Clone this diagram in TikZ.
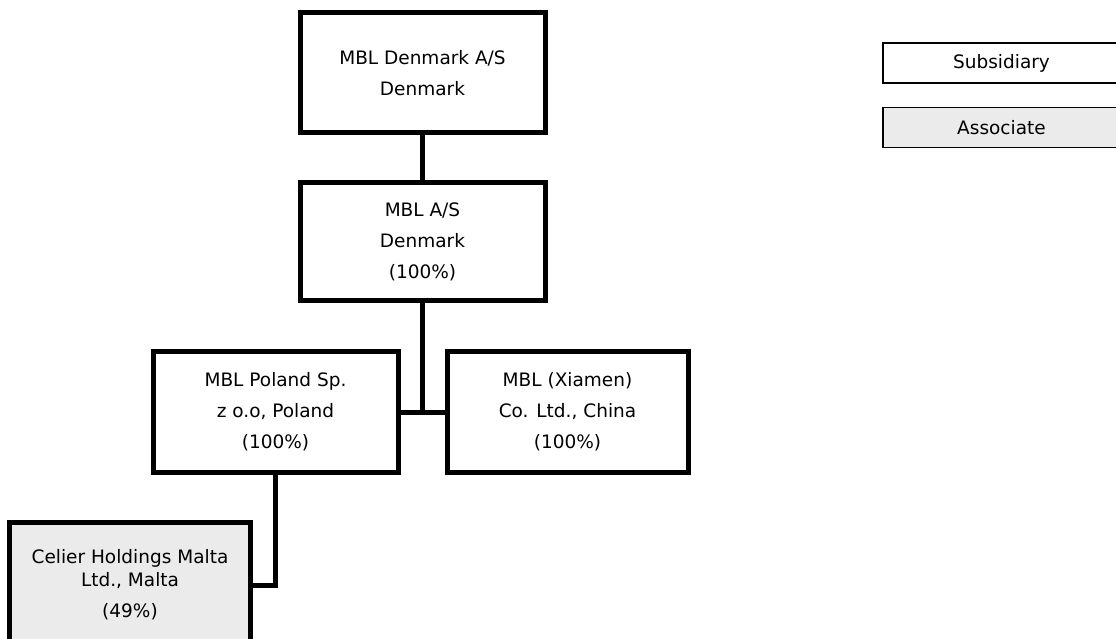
\documentclass[tikz,border=0pt]{standalone}
\usepackage{fontspec}
\setmainfont{DejaVu Sans}
\usetikzlibrary{positioning}

\begin{document}
\begin{tikzpicture}[x=1bp, y=-1bp,
				entity/.style={draw, line width=5bp, minimum width=245bp,
					minimum height=120bp, inner sep=0pt, align=center,
					font=\fontsize{18.5bp}{31bp}\selectfont},
				assoc/.style={entity, fill=black!8},
				legendbox/.style={draw, line width=1.5bp, minimum width=237bp,
					minimum height=40bp, inner sep=0pt,
					font=\fontsize{18.5bp}{22bp}\selectfont},
				link/.style={line width=5bp}]
				\useasboundingbox (0,0) rectangle (1116,639);
				\node at (422.5,73) (dk) [entity] {MBL Denmark A/S\\Denmark};
				\node at (422.5,241.5) (mbl) [entity, minimum height=118bp] {MBL A/S\\Denmark\\(100\%)};
				\node at (275.5,412) (pl) [entity] {MBL Poland Sp.\\z o.o, Poland\\(100\%)};
				\node at (567.5,412) (cn) [entity, minimum width=241bp] {MBL (Xiamen)\\Co. Ltd., China\\(100\%)};
				\node at (130,585) (mt) [assoc, minimum width=240bp, minimum height=126bp] {Celier Holdings Malta\\[-8bp]Ltd., Malta\\(49\%)};
				\node at (1001.5,63) (sub) [legendbox] {Subsidiary};
				\node at (1001.5,127.5) (ass) [legendbox, fill=black!8] {Associate};
				\draw[link] (dk) -- (mbl);
				\draw[link] (mbl.south) -- (mbl.south |- pl.east);
				\draw[link] (pl.east) -- (cn.west);
				\draw[link] (pl.south) |- (mt.east);
			\end{tikzpicture}
\end{document}
